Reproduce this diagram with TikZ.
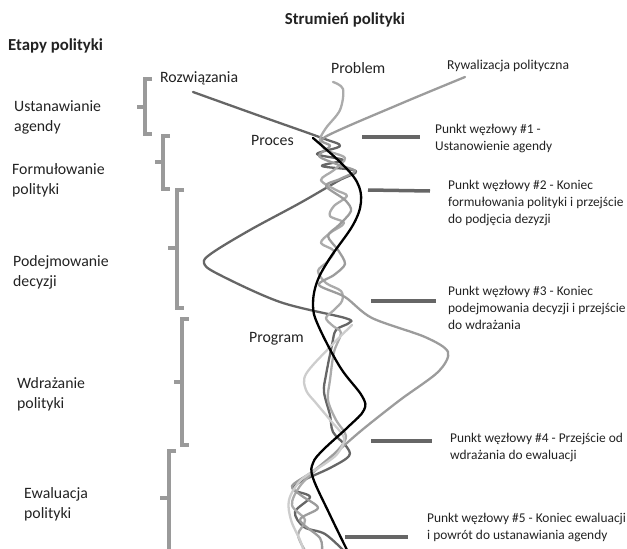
\documentclass[tikz,border=0pt]{standalone}
\usepackage{fontspec}
\setmainfont{Carlito}
\definecolor{txt}{HTML}{222222}
\definecolor{brk}{HTML}{9A9A9A}
\definecolor{mkc}{HTML}{666666}
\definecolor{cdark}{HTML}{666666}
\definecolor{cmid}{HTML}{9C9C9C}
\definecolor{cprob}{HTML}{ABABAB}
\definecolor{clight}{HTML}{CDCDCD}
\begin{document}
\begin{tikzpicture}[x=1pt,y=-1pt,
  lbl/.style={anchor=west,align=left,text=txt,inner sep=0pt,font=\fontsize{15.8}{20}\selectfont},
  pkt/.style={anchor=west,align=left,text=txt,inner sep=0pt,font=\fontsize{13.4}{17}\selectfont},
  strm/.style={inner sep=0pt,text=txt,font=\fontsize{15.8}{18}\selectfont},
  ttl/.style={inner sep=0pt,text=txt,font=\fontsize{16.8}{19}\selectfont\bfseries},
  brk/.style={draw=brk,line width=3.5pt},
  mk/.style={draw=mkc,line width=3.5pt},
  cv/.style={line width=2.3pt,line cap=round,line join=round}]
\useasboundingbox (0,0) rectangle (627,549);
% titles
\node[ttl] (t1) at (345,20) {Strumień polityki};
\node[ttl,anchor=west] (t2) at (8,46) {Etapy polityki};
% stream labels
\node[strm,anchor=west] (s1) at (160,78) {Rozwiązania};
\node[strm,anchor=west] (s2) at (331,68) {Problem};
\node[strm,anchor=west,font=\fontsize{13.6}{15}\selectfont] (s3) at (447,66) {Rywalizacja polityczna};
\node[strm,anchor=west] (s4) at (251,140) {Proces};
\node[strm,anchor=west] (s5) at (249,339) {Program};
% stage labels
\node[lbl] (e1) at (14,117) {Ustanawianie\\agendy};
\node[lbl] (e2) at (12,180) {Formułowanie\\polityki};
\node[lbl] (e3) at (13,272) {Podejmowanie\\decyzji};
\node[lbl] (e4) at (17,394) {Wdrażanie\\polityki};
\node[lbl] (e5) at (24,504) {Ewaluacja\\polityki};
% brackets
\draw[brk] (152,79) -- (145,79) -- (145,134) -- (152,134); \draw[brk] (145,107) -- (137,107);
\draw[brk] (170,136) -- (163,136) -- (163,189) -- (170,189); \draw[brk] (163,162) -- (155,162);
\draw[brk] (184,190) -- (177,190) -- (177,308) -- (184,308); \draw[brk] (177,248) -- (168,248);
\draw[brk] (189,319) -- (182,319) -- (182,445) -- (189,445); \draw[brk] (182,382) -- (174,382);
\draw[brk] (176,451) -- (169,451) -- (169,549); \draw[brk] (169,498) -- (160,498);
% curves
\begin{scope}
\clip (0,0) rectangle (627,549);
\draw[cv,draw=cdark] plot[smooth,tension=0.55] coordinates {
 (193,92) (260,116) (322,138) (340,146) (317,154) (343,160) (322,166) (356,171) (338,181)
 (300,203) (250,230) (212,253) (204,263) (218,274) (280,302) (345,318) (349,323) (336,330)
 (332,345) (326,375) (324,392) (330,415) (333,432) (346,446) (349,456) (330,468) (300,482)
 (294,490) (310,497) (295,512) (304,527) (325,534) (345,552)};
\draw[cv,draw=cprob] plot[smooth,tension=0.55] coordinates {
 (333,82) (343,89) (340,110) (326,128) (320,140) (326,150) (345,158) (334,170) (321,180)
 (336,190) (347,196) (334,206) (330,216) (344,223) (330,233) (321,243) (334,251) (327,262)
 (318,271) (326,283) (341,291) (342,301) (334,310) (326,318) (333,326) (341,333) (334,352)
 (330,380) (328,400) (336,420) (346,436) (338,450) (318,468) (300,486) (292,505) (305,520)
 (298,535) (306,552)};
\draw[cv,draw=cmid] plot[smooth,tension=0.5] coordinates {
 (465,77) (400,104) (325,137) (330,146) (319,156) (339,165) (355,171) (340,179) (326,186)
 (345,200) (351,211) (339,225) (328,236) (338,250) (345,264) (334,275) (319,285) (345,297)
 (372,318) (425,337) (448,352) (438,372) (400,400) (362,430) (332,456) (312,472) (292,486)
 (302,496) (318,508) (300,520) (320,538) (322,552)};
\draw[cv,draw=clight] plot[smooth,tension=0.55] coordinates {
 (352,325) (330,347) (306,374) (306,390) (316,403) (331,421) (344,438) (338,453) (326,463)
 (301,480) (289,500) (291,520) (300,540) (304,552)};
\draw[cv,draw=black] plot[smooth,tension=0.6] coordinates {
 (313,138) (340,162) (357,182) (361,202) (353,225) (330,258) (317,282) (313,305) (318,325)
 (340,367) (362,396) (364,410) (348,427) (323,450) (313,463) (313,478) (330,515) (348,552)};
\end{scope}
% markers
\draw[mk] (362,137) -- (420,137) coordinate (m1);
\draw[mk] (368,190) -- (430,191) coordinate (m2);
\draw[mk] (371,301) -- (436,301) coordinate (m3);
\draw[mk] (371,441) -- (432,441) coordinate (m4);
\draw[mk] (345,537) -- (408,537) coordinate (m5);
\node[pkt] (p1) at (435,138) {Punkt węzłowy \#1 -\\Ustanowienie agendy};
\node[pkt] (p2) at (448,203) {Punkt węzłowy \#2 - Koniec\\formułowania polityki i przejście\\do podjęcia dezyzji};
\node[pkt] (p3) at (448,308) {Punkt węzłowy \#3 - Koniec\\podejmowania decyzji i przejście\\do wdrażania};
\node[pkt] (p4) at (450,447) {Punkt węzłowy \#4 - Przejście od\\wdrażania do ewaluacji};
\node[pkt] (p5) at (427,527) {Punkt węzłowy \#5 - Koniec ewaluacji\\i powrót do ustanawiania agendy};
\end{tikzpicture}
\end{document}
